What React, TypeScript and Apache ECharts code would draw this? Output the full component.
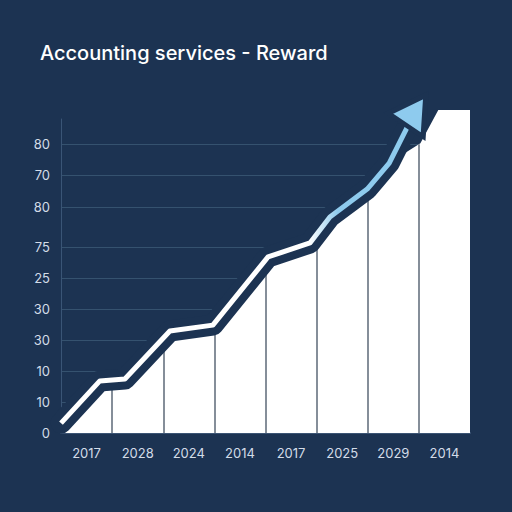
import { useEffect, useRef } from 'react';
import * as echarts from 'echarts';

const BG = '#1c3352';

// x labels (one per band) and y tick labels as printed on the chart
const years = ['2017', '2028', '2024', '2014', '2017', '2025', '2029', '2014'];
const yTickLabels = ['0', '10', '10', '30', '30', '25', '75', '80', '70', '80'];
const yTickValues = [0, 1, 2, 3, 4, 5, 6, 7.29, 8.32, 9.32];

// white line path (x in band units, y in grid units)
const lineX = [0, 0.76, 1.25, 2.13, 2.97, 4.05, 4.87, 5.26, 5.99, 6.42, 6.94];
const lineY = [0.32, 1.68, 1.74, 3.29, 3.48, 5.68, 6.13, 6.97, 7.87, 8.71, 10.42];

// where the white area keeps going after the arrow
const areaTailX = [7.03, 7.38, 8];
const areaTailY = [9.35, 10.42, 10.42];

const interp = (xs: number[], ys: number[], x: number) => {
    for (let i = 1; i < xs.length; i++) {
        if (x <= xs[i]) {
            const t = (x - xs[i - 1]) / (xs[i] - xs[i - 1]);
            return ys[i - 1] + t * (ys[i] - ys[i - 1]);
        }
    }
    return ys[ys.length - 1];
};

export default function App() {
    const chartRef = useRef<HTMLDivElement>(null);

    useEffect(() => {
        if (!chartRef.current) return;
        const chart = echarts.init(chartRef.current, null, { renderer: 'svg' });

        const linePts = lineX.map((x, i) => [x, lineY[i]]);
        const areaX = [...lineX.slice(0, -1), ...areaTailX];
        const areaY = [...lineY.slice(0, -1), ...areaTailY];
        const areaPts = areaX.map((x, i) => [x, areaY[i]]);

        // dark dividers inside the white area, one per band edge
        const separators = years.slice(1).map((_, i) => {
            const x = i + 1;
            return [{ coord: [x, 0] }, { coord: [x, interp(areaX, areaY, x)] }];
        });

        const lastIdx = linePts.length - 1;
        const whiteData: any[] = linePts.map((p, i) =>
            i === lastIdx
                ? {
                      value: p,
                      symbol: 'triangle',
                      symbolSize: [42, 36],
                      symbolRotate: -34,
                      itemStyle: { color: '#8ecbee', borderColor: BG, borderWidth: 5 },
                  }
                : p
        );

        chart.setOption({
            animation: false,
            backgroundColor: BG,
            title: {
                text: 'Accounting services - Reward',
                left: 35,
                top: 38,
                textStyle: { color: '#ffffff', fontSize: 20, fontWeight: 500, fontFamily: 'Inter' },
            },
            grid: { left: 61, right: 42, top: 119, bottom: 79, outerBoundsMode: 'none' },
            xAxis: {
                type: 'value',
                min: 0,
                max: years.length,
                axisLine: { show: true, lineStyle: { color: '#3b5474', width: 2 } },
                axisTick: { show: false },
                splitLine: { show: false },
                axisLabel: {
                    customValues: years.map((_, i) => i + 0.5),
                    formatter: (v: number) => years[Math.floor(v)],
                    color: '#d3dce8',
                    fontSize: 13,
                    fontFamily: 'Inter',
                    margin: 13,
                },
            },
            yAxis: {
                type: 'value',
                min: 0,
                max: 10.13,
                axisLine: { show: true, lineStyle: { color: '#3a5576', width: 1 } },
                axisTick: { show: false, customValues: yTickValues },
                splitLine: { show: true, lineStyle: { color: '#35526f', width: 1 } },
                axisLabel: {
                    customValues: yTickValues,
                    formatter: (v: number) => yTickLabels[yTickValues.indexOf(v)],
                    color: '#d3dce8',
                    fontSize: 13,
                    fontFamily: 'Inter',
                    margin: 11,
                },
            },
            series: [
                {
                    type: 'line',
                    data: areaPts,
                    symbol: 'none',
                    clip: false,
                    z: 2,
                    lineStyle: { width: 0 },
                    areaStyle: { color: '#ffffff', opacity: 1 },
                    markLine: {
                        z: 3,
                        silent: true,
                        symbol: 'none',
                        label: { show: false },
                        lineStyle: { color: '#5d6877', width: 1.5, type: 'solid' },
                        data: separators,
                    },
                },
                {
                    type: 'line',
                    data: linePts,
                    symbol: 'none',
                    clip: false,
                    z: 4,
                    lineStyle: { color: BG, width: 21, cap: 'round', join: 'round' },
                },
                {
                    type: 'line',
                    data: whiteData,
                    symbol: 'none',
                    showSymbol: true,
                    clip: false,
                    z: 5,
                    lineStyle: {
                        width: 5,
                        join: 'round',
                        color: new echarts.graphic.LinearGradient(0, 0, 1, 0, [
                            { offset: 0, color: '#ffffff' },
                            { offset: 0.7, color: '#ffffff' },
                            { offset: 0.78, color: '#8ecbee' },
                            { offset: 1, color: '#8ecbee' },
                        ]),
                    },
                },
            ],
        });

        return () => chart.dispose();
    }, []);

    return (
        <div
            ref={chartRef}
            style={{ position: 'fixed', left: 0, top: 0, width: '512px', height: '512px' }}
        />
    );
}
